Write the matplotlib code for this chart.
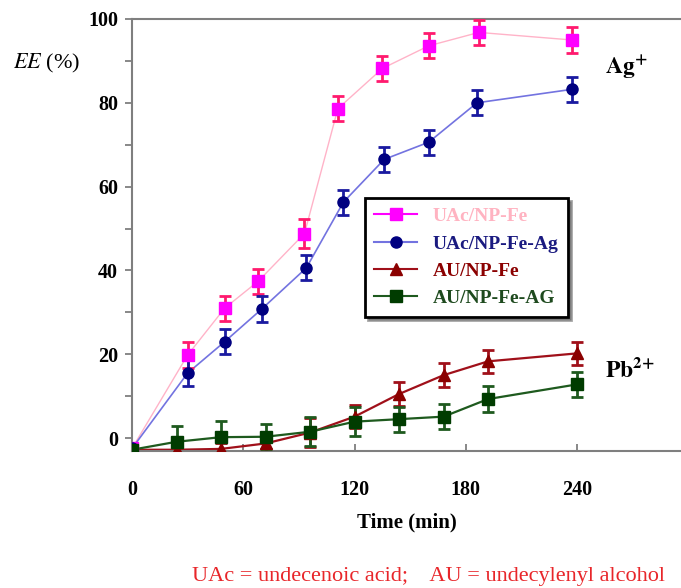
import matplotlib
matplotlib.use("Agg")
import matplotlib.pyplot as plt
from matplotlib.lines import Line2D

plt.rcParams['font.family'] = ['Liberation Serif', 'DejaVu Serif']
plt.rcParams['mathtext.fontset'] = 'stix'

# UAc/NP-Fe (Ag+)
t_uac = [0, 30, 50, 68, 93, 111, 135, 160, 187, 237]
ee_uac = [-2.5, 19.8, 31.0, 37.4, 48.8, 78.6, 88.2, 93.6, 96.8, 95.0]
err_uac = [0, 3, 3, 3, 3.5, 3, 3, 3, 3, 3]

# UAc/NP-Fe-Ag (Ag+)
t_uacag = [0, 30, 50, 70, 94, 114, 136, 160, 186, 237]
ee_uacag = [-2.5, 15.5, 23.0, 30.8, 40.6, 56.3, 66.5, 70.6, 80.0, 83.2]
err_uacag = [0, 3, 3, 3, 3, 3, 3, 3, 3, 3]

# AU/NP-Fe (Pb2+)
t_au = [0, 24, 48, 72, 96, 120, 144, 168, 192, 240]
ee_au = [-2.8, -2.8, -2.6, -1.3, 1.3, 5.1, 10.5, 15.0, 18.3, 20.2]
err_au = [0, 1, 1.5, 2.5, 3.5, 2.8, 2.8, 2.8, 2.8, 2.8]

# AU/NP-Fe-AG (Pb2+)
t_auag = [0, 24, 48, 72, 96, 120, 144, 168, 192, 240]
ee_auag = [-2.8, -0.9, 0.2, 0.3, 1.5, 3.9, 4.5, 5.1, 9.3, 12.8]
err_auag = [0, 3.8, 3.8, 3, 3.5, 3.5, 3, 3, 3, 3]

labels = ['UAc/NP-Fe', 'UAc/NP-Fe-Ag', 'AU/NP-Fe', 'AU/NP-Fe-AG']
label_colors = ['#ffb3c1', '#1a1a80', '#8b0000', '#1e4a1e']

fig = plt.figure(figsize=(6.81, 5.88), dpi=100)
ax = fig.add_axes([132 / 681, 137 / 588, 549 / 681, 432 / 588])

# series: x, y, err, marker, marker colour, errbar colour, line colour, line width, marker size
series = [
    (t_uac, ee_uac, err_uac, 's', '#ff00ff', '#ff1a6e', '#ffb3c8', 1.0, 8),
    (t_uacag, ee_uacag, err_uacag, 'o', '#000080', '#1a1aa0', '#7373e0', 1.2, 8),
    (t_au, ee_au, err_au, '^', '#8b0000', '#a0101a', '#a0101a', 1.6, 9),
    (t_auag, ee_auag, err_auag, 's', '#003c00', '#1e5a1e', '#1e5a1e', 1.6, 8),
]

for x, y, e, m, mc, ec, lc, lw, ms in series:
    ax.plot(x, y, color=lc, lw=lw, zorder=2)
    ax.errorbar(x, y, yerr=e, fmt=m, color=mc, ms=ms, mec=mc,
                ecolor=ec, elinewidth=2, capsize=4, capthick=2, zorder=3)

ax.set_xlim(0, 296)
ax.set_ylim(-3.1, 100)
ax.set_xticks([0, 60, 120, 180, 240])
ax.set_yticks([0, 20, 40, 60, 80, 100])
ax.set_yticks([10, 30, 50, 70, 90], minor=True)

ax.spines['right'].set_visible(False)
for s in ['left', 'bottom', 'top']:
    ax.spines[s].set_color('#7f7f7f')
    ax.spines[s].set_linewidth(1.5)

ax.tick_params(axis='y', which='both', direction='out', length=5, width=1.3,
               color='#7f7f7f', pad=5, labelsize=14.5)
ax.tick_params(axis='x', direction='in', length=5, width=1.3,
               color='#7f7f7f', pad=21, labelsize=14.5)
for lab in ax.get_xticklabels() + ax.get_yticklabels():
    lab.set_fontweight('bold')

ax.set_xlabel('Time (min)', fontsize=15, fontweight='bold', labelpad=9)

fig.text(13 / 681, 1 - 63 / 588, r'$EE$ (%)', fontsize=16, va='center', ha='left')
fig.text(605 / 681, 1 - 68 / 588, r'$\mathbf{Ag^{+}}$', fontsize=17, va='center')
fig.text(605 / 681, 1 - 370 / 588, r'$\mathbf{Pb^{2{+}}}$', fontsize=17, va='center')
fig.text(428 / 681, 1 - 576 / 588, 'UAc = undecenoic acid;    AU = undecylenyl alcohol',
         color='#e8262a', fontsize=16, ha='center', va='center')

handles = []
for x, y, e, m, mc, ec, lc, lw, ms in series:
    line_c = '#ff00ff' if mc == '#ff00ff' else lc
    handles.append(Line2D([], [], color=line_c, lw=1.5, marker=m, ms=ms, mfc=mc, mec=mc))
leg = ax.legend(handles, labels, loc='upper left', bbox_to_anchor=(0.424, 0.586),
                borderaxespad=0, frameon=True, fancybox=False, shadow=True,
                handlelength=2.2, borderpad=0.5, labelspacing=0.5,
                prop={'weight': 'bold', 'size': 14})
leg.get_frame().set_edgecolor('black')
leg.get_frame().set_linewidth(2)
for txt, c in zip(leg.get_texts(), label_colors):
    txt.set_color(c)

fig.savefig('out.png', dpi=100)
